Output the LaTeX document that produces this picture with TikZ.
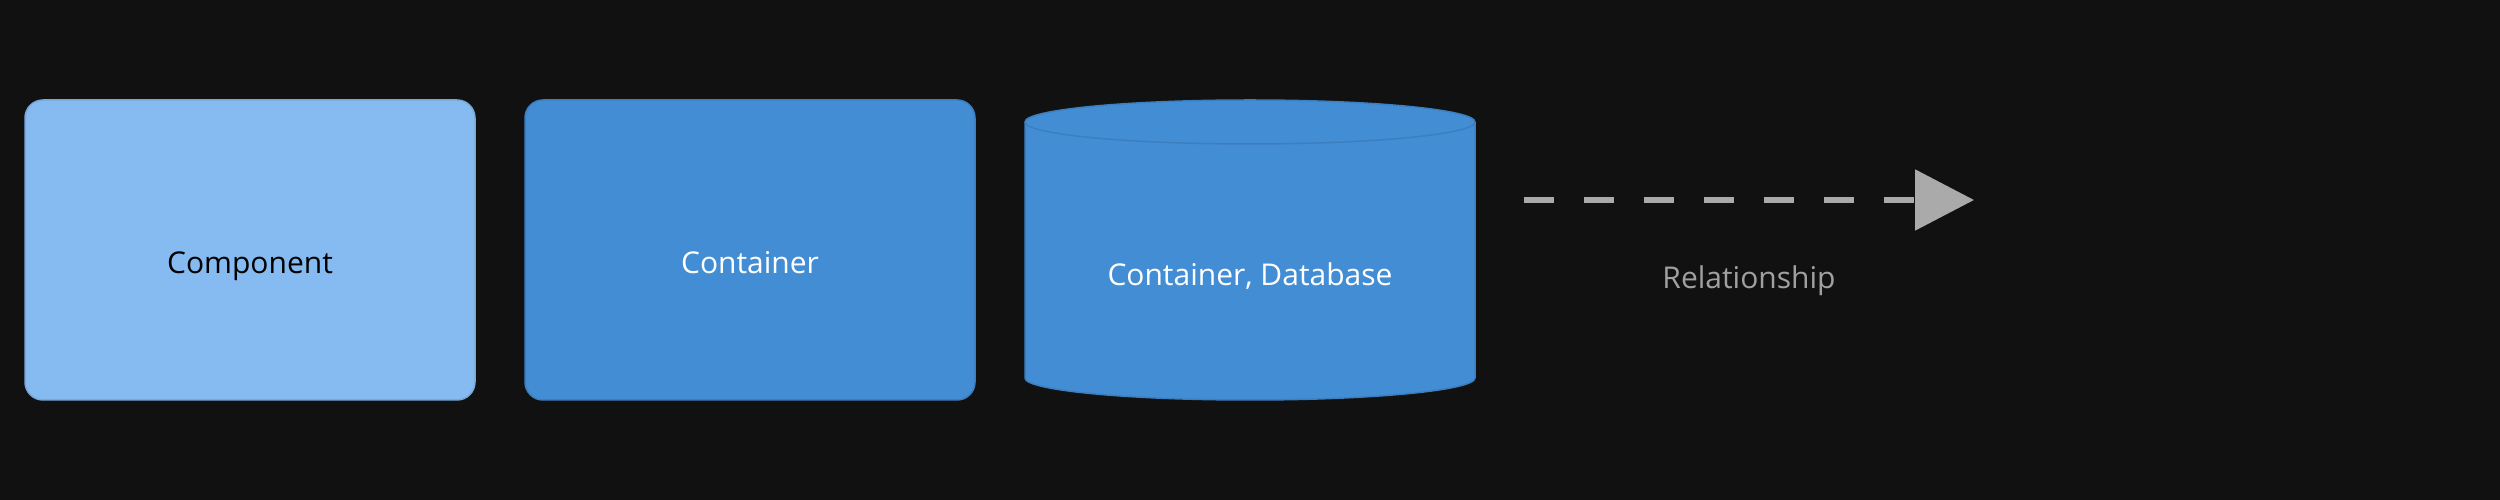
\documentclass[tikz,border=0pt]{standalone}
\usepackage{fontspec}
\setmainfont{Open Sans}
\usetikzlibrary{arrows.meta}
\definecolor{bg}{HTML}{111111}
\definecolor{compfill}{HTML}{85BBF0}
\definecolor{compedge}{HTML}{78A8D8}
\definecolor{contfill}{HTML}{438DD5}
\definecolor{contedge}{HTML}{3C7FC0}
\definecolor{relcol}{HTML}{AAAAAA}
\definecolor{reltext}{HTML}{A0A0A0}
\tikzset{
  elembox/.style={rectangle, rounded corners=18pt, minimum width=450pt, minimum height=300pt, inner sep=0pt, line width=1.5pt},
  elemtext/.style={anchor=base, inner sep=0pt, font=\fontsize{30}{36}\selectfont},
  rel/.style={line width=5.5pt, draw=relcol, dash pattern=on 30pt off 30pt, -{Triangle[length=59pt,width=60pt]}}
}
\begin{document}
\begin{tikzpicture}[x=1pt,y=1pt]
\fill[bg] (0,0) rectangle (2500,500);
\useasboundingbox (0,0) rectangle (2500,500);
% Component
\node[elembox, fill=compfill, draw=compedge] (comp) at (250,250) {};
\node[elemtext, text=black] (comptext) at (250,226) {Component};
% Container
\node[elembox, fill=contfill, draw=contedge] (cont) at (750,250) {};
\node[elemtext, text=white] (conttext) at (750,226) {Container};
% Database cylinder
\coordinate (dbtl) at (1025,378);
\coordinate (dbbl) at (1025,122);
\fill[contfill, draw=contedge, line width=1.5pt]
  (1025,378) -- (1025,122) arc[start angle=180, end angle=360, x radius=225, y radius=22]
  -- (1475,378) arc[start angle=0, end angle=180, x radius=225, y radius=22] -- cycle;
\draw[contedge, line width=1.5pt] (1025,378) arc[start angle=180, end angle=360, x radius=225, y radius=22];
\node[elemtext, text=white] (dbtext) at (1250,214) {Container, Database};
% Relationship
\coordinate (relstart) at (1524,300);
\coordinate (relend) at (1974,300);
\draw[rel] (relstart) -- (relend);
\node[elemtext, text=reltext] (reltext) at (1749,211) {Relationship};
\end{tikzpicture}
\end{document}
